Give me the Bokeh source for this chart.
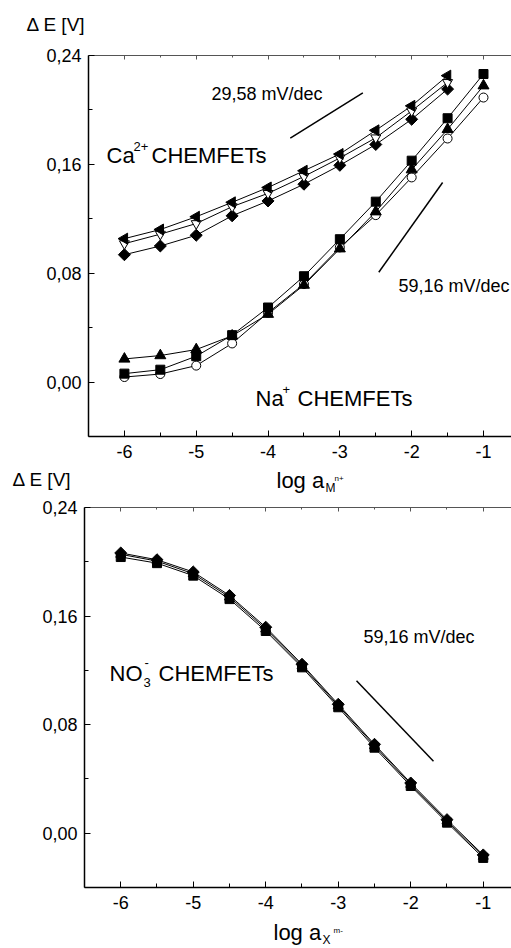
from bokeh.plotting import figure
from bokeh.layouts import column
from bokeh.models import (FixedTicker, CustomJSTickFormatter, LinearAxis, Label, Range1d)
from bokeh.embed import file_html
from bokeh.resources import INLINE

# ---------------- data ----------------
x_ca = [-6.0, -5.5, -5.0, -4.5, -4.0, -3.5, -3.0, -2.5, -2.0, -1.5]
ca_left_tri = [0.1054, 0.1121, 0.1215, 0.1321, 0.1430, 0.1553, 0.1676, 0.1850, 0.2030, 0.2252]
ca_down_tri = [0.1017, 0.1087, 0.1165, 0.1289, 0.1387, 0.1511, 0.1647, 0.1795, 0.1993, 0.2202]
ca_diamond = [0.0936, 0.1000, 0.1079, 0.1222, 0.1331, 0.1454, 0.1593, 0.1746, 0.1931, 0.2153]

x_na = [-6.0, -5.5, -5.0, -4.5, -4.0, -3.5, -3.0, -2.5, -2.0, -1.5, -1.0]
na_square = [0.0062, 0.0091, 0.0190, 0.0345, 0.0548, 0.0778, 0.1050, 0.1326, 0.1627, 0.1939, 0.2264]
na_triangle = [0.0170, 0.0195, 0.0239, 0.0340, 0.0499, 0.0713, 0.0980, 0.1252, 0.1561, 0.1857, 0.2178]
na_circle = [0.0037, 0.0059, 0.0121, 0.0284, 0.0510, 0.0720, 0.0990, 0.1227, 0.1504, 0.1790, 0.2091]

x_no3 = [-6.0, -5.5, -5.0, -4.5, -4.0, -3.5, -3.0, -2.5, -2.0, -1.5, -1.0]
no3_diamond = [0.2065, 0.2015, 0.1925, 0.1752, 0.1518, 0.1245, 0.0950, 0.0655, 0.0370, 0.0100, -0.0160]
no3_triangle = [0.2055, 0.2005, 0.1912, 0.1740, 0.1505, 0.1235, 0.0940, 0.0645, 0.0360, 0.0090, -0.0170]
no3_square = [0.2035, 0.1990, 0.1898, 0.1725, 0.1490, 0.1222, 0.0928, 0.0630, 0.0348, 0.0078, -0.0182]

# reference slope lines
ca_slope_x = [-3.69, -2.68]
ca_slope_y = [0.1793, 0.2126]
na_slope_x = [-2.458, -1.569]
na_slope_y = [0.0807, 0.1467]
no3_slope_x = [-2.748, -1.686]
no3_slope_y = [0.1124, 0.0531]

x_ticks = [-6, -5, -4, -3, -2, -1]
x_minor = [-5.5, -4.5, -3.5, -2.5, -1.5]
y_ticks = [0.0, 0.08, 0.16, 0.24]
y_minor = [-0.04, 0.04, 0.12, 0.20]

X0, X1 = -6.5, -0.61
Y0, Y1 = -0.04, 0.24
FONT = "Liberation Sans"
W = 511


def make_fig(height, left, top, bottom):
    p = figure(width=W, height=height, output_backend="svg", toolbar_location=None,
               x_range=Range1d(X0, X1), y_range=Range1d(Y0, Y1),
               min_border_left=left, min_border_right=0, min_border_top=top,
               min_border_bottom=bottom, frame_align=False)
    p.outline_line_color = None
    p.grid.visible = False
    p.background_fill_color = "white"
    p.border_fill_color = "white"
    for ax in (p.xaxis[0], p.yaxis[0]):
        ax.axis_line_width = 1.5
        ax.axis_line_color = "black"
        ax.major_tick_in = 6
        ax.major_tick_out = 0
        ax.minor_tick_in = 4
        ax.minor_tick_out = 0
        ax.major_tick_line_color = "black"
        ax.minor_tick_line_color = "black"
        ax.major_label_text_font = FONT
        ax.major_label_text_font_size = "18px"
        ax.major_label_text_color = "black"
    p.xaxis[0].ticker = FixedTicker(ticks=x_ticks, minor_ticks=x_minor)
    p.yaxis[0].ticker = FixedTicker(ticks=y_ticks, minor_ticks=y_minor)
    p.xaxis[0].formatter = CustomJSTickFormatter(code="return tick.toFixed(0);")
    p.yaxis[0].formatter = CustomJSTickFormatter(code="return tick.toFixed(2).replace('.', ',');")
    p.xaxis[0].major_label_standoff = 8
    p.yaxis[0].major_label_standoff = 7
    top_ax = LinearAxis(ticker=FixedTicker(ticks=x_ticks, minor_ticks=x_minor),
                        formatter=CustomJSTickFormatter(code="return '';"),
                        major_label_text_font_size="0px", major_label_standoff=0,
                        major_tick_in=4, major_tick_out=0, minor_tick_in=2, minor_tick_out=0,
                        axis_line_color="#555555", axis_line_width=1,
                        major_tick_line_color="#555555", minor_tick_line_color="#555555")
    p.add_layout(top_ax, "above")
    return p


def text_fig(height):
    t = figure(width=W, height=height, output_backend="svg", toolbar_location=None,
               x_axis_type=None, y_axis_type=None,
               x_range=Range1d(0, W), y_range=Range1d(0, height),
               min_border_left=0, min_border_right=0, min_border_top=0, min_border_bottom=0,
               frame_align=False)
    t.outline_line_color = None
    t.grid.visible = False
    t.background_fill_color = "white"
    t.border_fill_color = "white"
    return t


# page layout (y from top): header 0-47, fig1 47-466, middle 466-497, fig2 497-917, footer 917-946
header = text_fig(47)
p1 = make_fig(419, 88, 8, 30)      # frame 55..436
middle = text_fig(31)
p2 = make_fig(420, 84, 10, 30)     # frame 507..887
footer = text_fig(29)


def conv(fl, ft, fb):
    def X(px):
        return X0 + (px - fl) * (X1 - X0) / (W - fl)

    def Y(py):
        return Y1 - (py - ft) * (Y1 - Y0) / (fb - ft)
    return X, Y


X1f, Y1f = conv(88, 55, 436)
X2f, Y2f = conv(84, 507, 887)


def lab(p, X, Y, px, py, text, size):
    s = float(size.replace("px", ""))
    py = py - (3 + 0.2 * s)   # compensate observed baseline offset
    p.add_layout(Label(x=X(px), y=Y(py), text=text, text_font=FONT,
                       text_font_size=size, text_color="black",
                       text_baseline="alphabetic", text_align="left"))


def tconv(top, height):
    return (lambda px: px), (lambda py: top + height - py)


# --- top plot series ---
for ys in (ca_left_tri, ca_down_tri, ca_diamond):
    p1.line(x_ca, ys, line_color="black", line_width=1)
for ys in (na_square, na_triangle, na_circle):
    p1.line(x_na, ys, line_color="black", line_width=1)

p1.scatter(x_ca, ca_diamond, marker="square", angle=0.7854, size=8.5, fill_color="black", line_color="black")
p1.scatter(x_ca, ca_down_tri, marker="inverted_triangle", size=10, fill_color="white", line_color="black")
p1.scatter(x_ca, ca_left_tri, marker="triangle", angle=1.5708, size=11, fill_color="black", line_color="black")

p1.scatter(x_na, na_circle, marker="circle", size=9, fill_color="white", line_color="black")
p1.scatter(x_na, na_square, marker="square", size=9, fill_color="black", line_color="black")
p1.scatter(x_na, na_triangle, marker="triangle", size=11, fill_color="black", line_color="black")

p1.line(ca_slope_x, ca_slope_y, line_color="black", line_width=1.5)
p1.line(na_slope_x, na_slope_y, line_color="black", line_width=1.5)

lab(p1, X1f, Y1f, 211, 100, "29,58 mV/dec", "18px")
lab(p1, X1f, Y1f, 106, 162, "Ca", "22px")
lab(p1, X1f, Y1f, 133, 152, "2+", "13px")
lab(p1, X1f, Y1f, 151, 162, "CHEMFETs", "22px")
lab(p1, X1f, Y1f, 398, 292, "59,16 mV/dec", "18px")
lab(p1, X1f, Y1f, 255, 405, "Na", "22px")
lab(p1, X1f, Y1f, 282, 395, "+", "13px")
lab(p1, X1f, Y1f, 297, 405, "CHEMFETs", "22px")

# header / middle / footer texts
hx, hy = tconv(0, 47)
lab(header, hx, hy, 26, 31, "Δ E [V]", "19px")

mx, my = tconv(466, 31)
lab(middle, mx, my, 276, 487, "log a", "22px")
lab(middle, mx, my, 325, 493, "M", "12px")
lab(middle, mx, my, 334, 483, "n+", "8px")
lab(middle, mx, my, 12, 486, "Δ E [V]", "19px")

# --- bottom plot series ---
for ys in (no3_diamond, no3_triangle, no3_square):
    p2.line(x_no3, ys, line_color="black", line_width=1)
p2.scatter(x_no3, no3_square, marker="square", size=9, fill_color="black", line_color="black")
p2.scatter(x_no3, no3_triangle, marker="triangle", size=10, fill_color="black", line_color="black")
p2.scatter(x_no3, no3_diamond, marker="square", angle=0.7854, size=8.5, fill_color="black", line_color="black")

p2.line(no3_slope_x, no3_slope_y, line_color="black", line_width=1.5)

lab(p2, X2f, Y2f, 363, 643, "59,16 mV/dec", "18px")
lab(p2, X2f, Y2f, 109, 680, "NO", "22px")
lab(p2, X2f, Y2f, 143, 688, "3", "13px")
lab(p2, X2f, Y2f, 144, 668, "-", "13px")
lab(p2, X2f, Y2f, 158, 680, "CHEMFETs", "22px")

fx, fy = tconv(917, 29)
lab(footer, fx, fy, 273, 939, "log a", "22px")
lab(footer, fx, fy, 322, 945, "X", "12px")
lab(footer, fx, fy, 333, 935, "m-", "8px")

layout = column(header, p1, middle, p2, footer, spacing=0)
open("out.html", "w").write(file_html(layout, INLINE))
